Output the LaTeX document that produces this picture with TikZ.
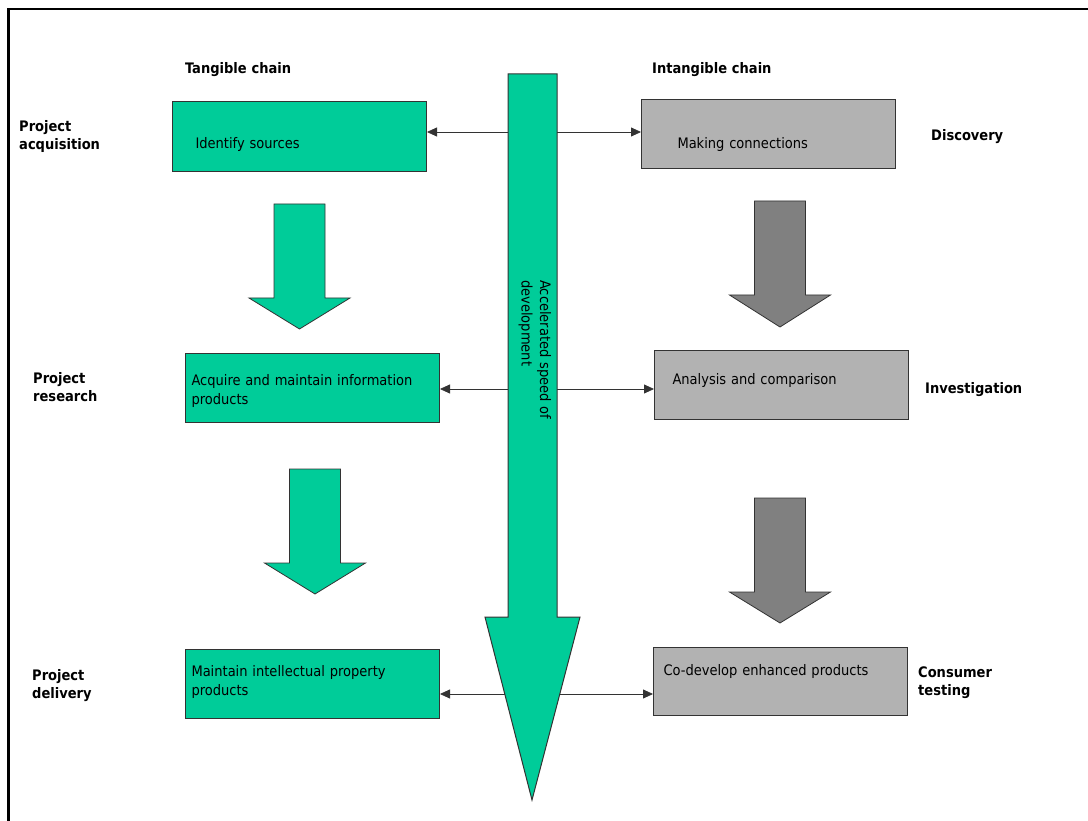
\documentclass[tikz,border=0pt]{standalone}
\usepackage{fontspec}
\setmainfont{DejaVu Sans Condensed}
\usetikzlibrary{calc}
\usetikzlibrary{arrows.meta}

\definecolor{chaingreen}{RGB}{0,204,153}
\definecolor{boxgray}{RGB}{178,178,178}
\definecolor{arrowgray}{RGB}{128,128,128}

\tikzset{
  chainbox/.style={draw=black!80, line width=1pt, anchor=north west, inner ysep=0pt, align=left},
  sidelabel/.style={anchor=base west, inner sep=0pt, text width=130pt, align=left, font=\fontsize{14.5}{18}\selectfont\bfseries},
  link/.style={draw=black!80, line width=0.8pt, -{Triangle[length=10pt,width=9pt]}},
}

\begin{document}
\begin{tikzpicture} [x=1pt, y=-1pt, font=\fontsize{14.5}{18.5}\selectfont]
\useasboundingbox (0,0) rectangle (1088,821);
\draw[line width=2.5pt] (8.5,821) -- (8.5,9) -- (1088,9);

\node[sidelabel] (tangible) at (185,74) {Tangible chain};
\node[sidelabel] (intangible) at (652,74) {Intangible chain};

\node[sidelabel] (acq) at (19,132) {Project\\acquisition};
\node[sidelabel] (res) at (33,383) {Project\\research};
\node[sidelabel] (del) at (32,680) {Project\\delivery};
\node[sidelabel] (disc) at (931,141) {Discovery};
\node[sidelabel] (invest) at (925,393) {Investigation};
\node[sidelabel] (consumer) at (918,677) {Consumer\\testing};

% tangible chain
\node[chainbox, fill=chaingreen, inner xsep=23pt, text width=208pt, text height=47pt, text depth=23pt] (idsrc) at (172,101) {Identify sources};
\node[chainbox, fill=chaingreen, inner xsep=6pt, text width=242pt, text height=32pt, text depth=37pt] (acquire) at (185,353) {Acquire and maintain information\\products};
\node[chainbox, fill=chaingreen, inner xsep=6pt, text width=242pt, text height=27pt, text depth=42pt] (maintain) at (185,649) {Maintain intellectual property\\products};

% intangible chain
\node[chainbox, fill=boxgray, inner xsep=36pt, text width=182pt, text height=49pt, text depth=20pt] (makeconn) at (641,99) {Making connections};
\node[chainbox, fill=boxgray, inner xsep=18pt, text width=218pt, text height=34pt, text depth=35pt] (analysis) at (654,350) {Analysis and comparison};
\node[chainbox, fill=boxgray, inner xsep=10pt, text width=234pt, text height=28pt, text depth=40pt] (codev) at (653,647) {Co-develop enhanced products};

\foreach \cx/\ty/\hy/\ly/\col in {299.5/204/298/329/chaingreen, 315/469/563/594/chaingreen, 780/201/295/327/arrowgray, 780/498/592/623/arrowgray}
  \draw[fill=\col, draw=black!80, line width=0.8pt] ({\cx-25.5},\ty) -- ({\cx+25.5},\ty) -- ({\cx+25.5},\hy) -- ({\cx+50.5},\hy) -- (\cx,\ly) -- ({\cx-50.5},\hy) -- ({\cx-25.5},\hy) -- cycle;

% big arrow
\draw[fill=chaingreen, draw=black!80, line width=1pt] (508,74) -- (557,74) -- (557,617) -- (580,617) -- (532,800) -- (485,617) -- (508,617) -- cycle;
\node[rotate=-90, anchor=base west, inner sep=0pt, text width=200pt, align=left] (speed) at (540,280) {Accelerated speed of\\development};

\coordinate (l1) at (508,132);
\coordinate (r1) at (557,132);
\coordinate (l2) at (508,389);
\coordinate (r2) at (557,389);
\coordinate (l3) at (504.8,694);
\coordinate (r3) at (560,694);

\draw[link] (l1) -- (l1 -| idsrc.east);
\draw[link] (r1) -- (r1 -| makeconn.west);
\draw[link] (l2) -- (l2 -| acquire.east);
\draw[link] (r2) -- (r2 -| analysis.west);
\draw[link] (l3) -- (l3 -| maintain.east);
\draw[link] (r3) -- (r3 -| codev.west);
\end{tikzpicture}
\end{document}
